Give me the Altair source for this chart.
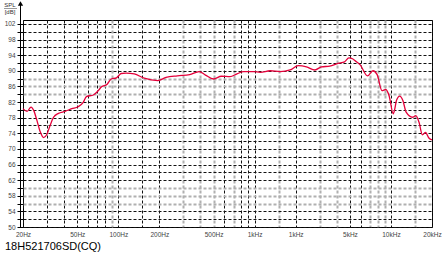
import altair as alt
import pandas as pd

# Frequency response
FREQ_HZ = [20, 21.4, 22.9, 24.0, 25.3, 26.8, 28.3, 29.9, 31.6, 33.5, 36.4, 40.7, 45.6,
           50.7, 55.3, 58.4, 65.6, 71.2, 75.4, 82.5, 88.8, 96.9, 105, 114, 131, 155,
           195, 224, 271, 334, 392, 436, 499, 570, 660, 742, 828, 980, 1100, 1300,
           1540, 1820, 2090, 2400, 2770, 3090, 3560, 4090, 4570, 4910, 5260, 5430,
           5950, 6730, 7380, 7920, 8590, 9170, 9690, 10390, 10680, 10970, 11590,
           12230, 12920, 14400, 15210, 16070, 17000, 17950, 18970, 20000]
SPL_DB = [80.3, 79.6, 80.7, 79.8, 77.3, 74.3, 72.9, 73.7, 76.0, 78.1, 79.1, 79.6, 80.3,
          80.8, 81.9, 83.4, 83.8, 84.9, 85.9, 86.5, 87.9, 88.2, 89.3, 89.4, 89.2, 88.1,
          87.5, 88.3, 88.7, 89.0, 89.8, 88.9, 87.9, 88.6, 88.5, 89.2, 89.8, 89.8, 89.6,
          90.0, 89.8, 90.2, 91.3, 91.0, 90.2, 91.0, 91.2, 91.9, 92.3, 93.3, 93.0, 92.6,
          91.5, 88.7, 90.0, 89.0, 84.9, 85.2, 83.6, 79.0, 80.3, 82.4, 83.5, 82.4, 79.4,
          78.1, 78.5, 76.8, 73.6, 74.2, 72.8, 72.3]

X_GRID_HZ = [20, 30, 40, 50, 60, 70, 80, 90, 100, 150, 200, 300, 400, 500, 600, 700,
             800, 900, 1000, 1500, 2000, 3000, 4000, 5000, 6000, 7000, 8000, 9000,
             10000, 15000, 20000]
X_SOFT_GRID_HZ = [90, 300, 400, 500, 700, 1500, 3000, 4000, 7000, 8000, 9000, 15000]
X_LABEL_HZ = [20, 50, 100, 200, 500, 1000, 2000, 5000, 10000, 20000]
X_LABEL_TEXT = ["20Hz", "50Hz", "100Hz", "200Hz", "500Hz", "1kHz", "1kHz", "5kHz",
                "10kHz", "20kHz"]
Y_GRID_DB = [50, 52, 54, 56, 58, 60, 62, 64, 66, 68, 70, 72, 74, 76, 78, 80, 82, 84,
             86, 88, 90, 92, 94, 96, 98, 100, 102]
Y_SOFT_GRID_DB = [56, 58, 60, 84, 86, 88]
Y_LABEL_DB = [50, 54, 58, 62, 66, 70, 74, 78, 82, 86, 90, 94, 98, 102]
TITLE_TEXT = "18H521706SD(CQ)"
Y_UNIT_TOP = "SPL"
Y_UNIT_BOTTOM = "[dB]"

W, H = 409, 207
FONT = "Liberation Sans"


def arr(vals):
    return "[" + ",".join(str(v) for v in vals) + "]"


x_expr = ""
for v, t in zip(X_LABEL_HZ, X_LABEL_TEXT):
    x_expr += f"datum.value == {v} ? '{t}' : "
x_expr += "''"
y_expr = f"indexof({arr(Y_LABEL_DB)}, datum.value) >= 0 ? datum.label : ''"

x_soft = f"indexof({arr(X_SOFT_GRID_HZ)}, datum.value) >= 0"
y_soft = f"indexof({arr(Y_SOFT_GRID_DB)}, datum.value) >= 0"

df = pd.DataFrame({"f": FREQ_HZ, "spl": SPL_DB})

xscale = alt.Scale(type="log", domain=[20, 20000], nice=False)
yscale = alt.Scale(domain=[50, 103], nice=False, zero=False)

line = alt.Chart(df).mark_line(color="#e4003a", strokeWidth=1.3, interpolate="monotone").encode(
    x=alt.X("f:Q", scale=xscale, axis=alt.Axis(
        values=X_GRID_HZ, labelExpr=x_expr, grid=True, gridDash=[3, 2],
        gridColor={"condition": {"test": x_soft, "value": "#b0b0b0"}, "value": "#111"},
        gridWidth={"condition": {"test": x_soft, "value": 2}, "value": 1},
        domain=False, ticks=False, labelFontSize=6.5, labelColor="#444",
        labelPadding=4, labelFlush=False, labelOverlap=False, title=None, labelFont=FONT)),
    y=alt.Y("spl:Q", scale=yscale, axis=alt.Axis(
        values=Y_GRID_DB, labelExpr=y_expr, grid=True, gridDash=[3, 2],
        gridColor={"condition": {"test": y_soft, "value": "#b0b0b0"}, "value": "#111"},
        gridWidth={"condition": {"test": y_soft, "value": 2}, "value": 1},
        domain=False, ticks=True, tickSize=6, tickColor="#000",
        labelFontSize=6.5, labelColor="#444", labelPadding=2, labelOverlap=False,
        title=None, labelFont=FONT)),
)

one = pd.DataFrame({"k": [0]})

axis_line = alt.Chart(one).mark_rule(color="#000", strokeWidth=1).encode(
    x=alt.value(-2.5), y=alt.value(-17), y2=alt.value(H + 0.5))
arrow = alt.Chart(one).mark_point(shape="triangle-up", filled=True, color="#000",
                                  size=28, opacity=1).encode(
    x=alt.value(-2.5), y=alt.value(-16.5))
spl_txt = alt.Chart(one).mark_text(text=Y_UNIT_TOP, fontSize=6, font=FONT, color="#333",
                                   align="center", baseline="alphabetic").encode(
    x=alt.value(-13), y=alt.value(-13))
spl_rule = alt.Chart(one).mark_rule(color="#555", strokeWidth=0.6).encode(
    x=alt.value(-19), x2=alt.value(-6), y=alt.value(-11.5))
db_txt = alt.Chart(one).mark_text(text=Y_UNIT_BOTTOM, fontSize=6, font=FONT, color="#333",
                                  align="center", baseline="alphabetic").encode(
    x=alt.value(-13), y=alt.value(-6))
title = alt.Chart(one).mark_text(text=TITLE_TEXT, fontSize=11, font=FONT, color="#000",
                                 align="left", baseline="alphabetic").encode(
    x=alt.value(-18), y=alt.value(H + 23))

chart = alt.layer(line, axis_line, arrow, spl_txt, spl_rule, db_txt, title).properties(
    width=W, height=H,
    autosize=alt.AutoSizeParams(type="none"),
    padding={"left": 23, "top": 20, "right": 11, "bottom": 29},
    background="#ffffff",
).configure_view(stroke="#000", strokeWidth=1)

chart.save("out.html", embed_options={"renderer": "svg", "actions": False})
